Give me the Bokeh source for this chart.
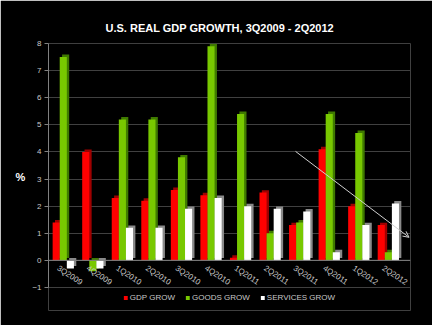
from bokeh.plotting import figure
from bokeh.models import Range1d, FixedTicker, Legend, LegendItem, Arrow, OpenHead, Span
from bokeh.core.properties import value
from bokeh.embed import file_html
from bokeh.resources import INLINE

categories = ["3Q2009", "4Q2009", "1Q2010", "2Q2010", "3Q2010", "4Q2010",
              "1Q2011", "2Q2011", "3Q2011", "4Q2011", "1Q2012", "2Q2012"]
gdp_grow = [1.4, 4.0, 2.3, 2.2, 2.6, 2.4, 0.1, 2.5, 1.3, 4.1, 2.0, 1.3]
goods_grow = [7.5, -0.4, 5.2, 5.2, 3.8, 7.9, 5.4, 1.0, 1.4, 5.4, 4.7, 0.3]
services_grow = [-0.3, -0.3, 1.2, 1.2, 1.9, 2.3, 2.0, 1.9, 1.8, 0.3, 1.3, 2.1]
series_names = ["GDP GROW", "GOODS GROW", "SERVICES GROW"]
y_ticks = [-1, 0, 1, 2, 3, 4, 5, 6, 7, 8]

FONT = "Liberation Sans"
LABEL_COLOR = "#c8c8c8"

p = figure(width=432, height=325, x_range=Range1d(0, 12.25), y_range=Range1d(-1.85, 8),
           x_axis_location=None, output_backend="svg", toolbar_location=None,
           background_fill_color="black", border_fill_color="black",
           outline_line_color=None, min_border_left=48, min_border_right=22,
           min_border_top=43, min_border_bottom=15,
           title="U.S. REAL GDP GROWTH, 3Q2009 - 2Q2012")

p.title.text_color = "white"
p.title.text_font = FONT
p.title.text_font_size = "11px"
p.title.text_font_style = "bold"
p.title.align = "left"
p.title.offset = 57
p.title.standoff = 19

p.xgrid.visible = False
p.ygrid.ticker = FixedTicker(ticks=y_ticks)
p.ygrid.grid_line_color = "#404040"

ax = p.yaxis[0]
ax.ticker = FixedTicker(ticks=y_ticks)
ax.bounds = (y_ticks[0], y_ticks[-1])
ax.axis_line_color = "#808080"
ax.major_tick_line_color = "#808080"
ax.major_tick_out = 4
ax.major_tick_in = 0
ax.minor_tick_line_color = None
ax.major_label_text_color = LABEL_COLOR
ax.major_label_text_font = FONT
ax.major_label_text_font_size = "8px"
ax.major_label_standoff = 3
ax.axis_label = "%"
ax.axis_label_orientation = "horizontal"
ax.axis_label_text_color = "white"
ax.axis_label_text_font = FONT
ax.axis_label_text_font_size = "11px"
ax.axis_label_text_font_style = "bold"
ax.axis_label_standoff = 4

p.add_layout(Span(location=0, dimension="width", line_color="#808080", line_width=1))

n = len(categories)
bw = 0.24
dx, dy = 0.08, 0.09
series = [gdp_grow, goods_grow, services_grow]
fronts = ["#ff0000", "#78c800", "#ffffff"]
sides = ["#a00000", "#3f7a00", "#8a8a8a"]
items = []
for k, vals in enumerate(series):
    xs = [i + 0.5 + (k - 1) * bw for i in range(n)]
    p.vbar(x=[x + dx for x in xs], width=bw, bottom=dy, top=[v + dy for v in vals],
           fill_color=sides[k], line_color=None)
    r = p.vbar(x=xs, width=bw, bottom=0, top=vals, fill_color=fronts[k], line_color=None)
    items.append(LegendItem(label=series_names[k], renderers=[r]))

p.text(x=[i + 0.5 - 0.1 for i in range(n)], y=[-0.12] * n, text=categories,
       angle=-0.59, text_align="left", text_baseline="top", text_color=LABEL_COLOR,
       text_font=value(FONT), text_font_size="8px")

p.add_layout(Arrow(x_start=8.36, y_start=4.02, x_end=12.2, y_end=0.85,
                   line_color="#d0d0d0", line_width=1,
                   end=OpenHead(size=6, line_color="#d0d0d0", line_width=1)))

legend = Legend(items=items, orientation="horizontal", location="bottom_center",
                background_fill_alpha=0, border_line_color=None,
                label_text_color=LABEL_COLOR, label_text_font=FONT,
                label_text_font_size="8px", glyph_width=5, glyph_height=5,
                label_standoff=2, spacing=10, padding=0, margin=8,
                label_height=10)
p.add_layout(legend)

open("out.html", "w").write(file_html(p, INLINE))
